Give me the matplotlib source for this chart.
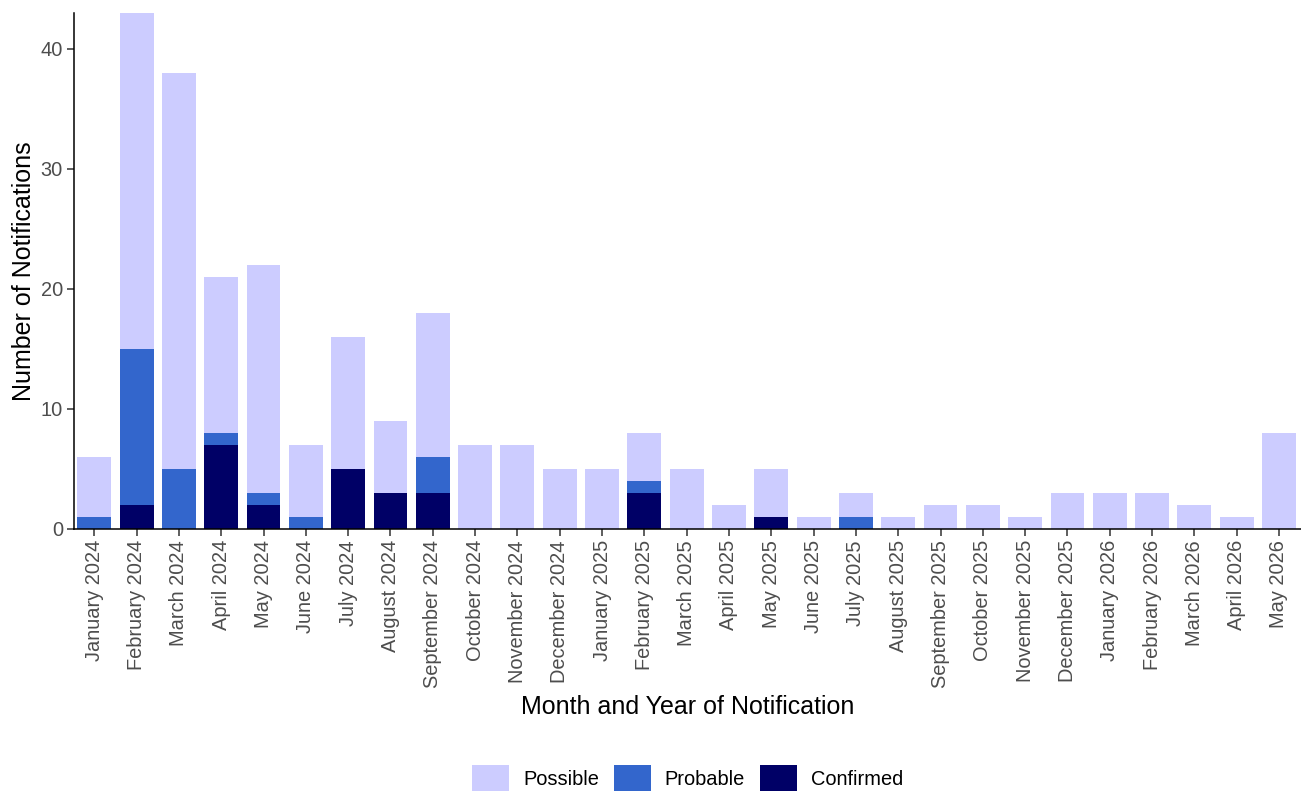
import numpy as np
import matplotlib.pyplot as plt
from matplotlib.patches import Patch

plt.rcParams['font.family'] = ['Liberation Sans', 'DejaVu Sans']

# Data
months = ["January 2024", "February 2024", "March 2024", "April 2024", "May 2024",
          "June 2024", "July 2024", "August 2024", "September 2024", "October 2024",
          "November 2024", "December 2024", "January 2025", "February 2025",
          "March 2025", "April 2025", "May 2025", "June 2025", "July 2025",
          "August 2025", "September 2025", "October 2025", "November 2025",
          "December 2025", "January 2026", "February 2026", "March 2026",
          "April 2026", "May 2026"]
confirmed = [0, 2, 0, 7, 2, 0, 5, 3, 3, 0, 0, 0, 0, 3, 0, 0, 1, 0, 0, 0,
             0, 0, 0, 0, 0, 0, 0, 0, 0]
probable = [1, 13, 5, 1, 1, 1, 0, 0, 3, 0, 0, 0, 0, 1, 0, 0, 0, 0, 1, 0,
            0, 0, 0, 0, 0, 0, 0, 0, 0]
possible = [5, 28, 33, 13, 19, 6, 11, 6, 12, 7, 7, 5, 5, 4, 5, 2, 4, 1, 2, 1,
            2, 2, 1, 3, 3, 3, 2, 1, 8]

colors = {"Possible": "#CCCCFF", "Probable": "#3366CC", "Confirmed": "#000066"}

x = np.arange(len(months))
conf = np.array(confirmed)
prob = np.array(probable)
poss = np.array(possible)

fig = plt.figure(figsize=(13.01, 7.91), dpi=100)
ax = fig.add_axes([74/1301, 1 - 529/791, 1 - 74/1301, (529 - 13)/791])

w = 0.8
ax.bar(x, conf, width=w, color=colors["Confirmed"], linewidth=0)
ax.bar(x, prob, width=w, bottom=conf, color=colors["Probable"], linewidth=0)
ax.bar(x, poss, width=w, bottom=conf + prob, color=colors["Possible"], linewidth=0)

ax.set_xlim(-0.48, len(months) - 0.48)
ax.set_ylim(0, 43)
ax.set_yticks([0, 10, 20, 30, 40])
ax.set_xticks(x)
ax.set_xticklabels(months, rotation=90)

for s in ["top", "right"]:
    ax.spines[s].set_visible(False)
for s in ["left", "bottom"]:
    ax.spines[s].set_linewidth(1.1)
    ax.spines[s].set_color("black")
ax.tick_params(axis="both", length=5, width=1.1, color="#333333",
               labelsize=14.4, labelcolor="#4D4D4D", pad=3)

ax.set_xlabel("Month and Year of Notification", fontsize=18, labelpad=5)
ax.set_ylabel("Number of Notifications", fontsize=18, labelpad=3)

handles = [Patch(facecolor=colors[k], edgecolor="none", label=k)
           for k in ["Possible", "Probable", "Confirmed"]]
fig.legend(handles=handles, loc="lower center", bbox_to_anchor=(0.5285, -0.012),
           ncol=3, frameon=False, fontsize=14.4, handlelength=1.85,
           handleheight=1.75, handletextpad=0.7, columnspacing=0.75,
           borderaxespad=0.0)

fig.savefig("out.png", dpi=100)
